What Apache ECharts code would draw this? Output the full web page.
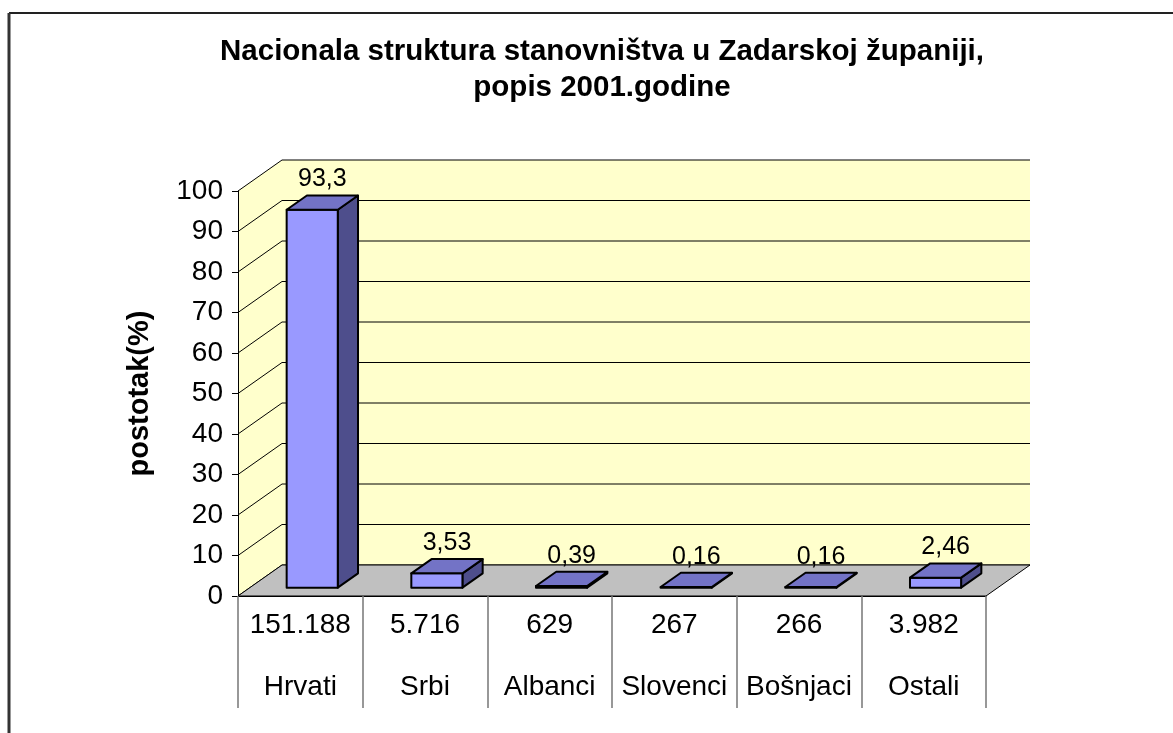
<!DOCTYPE html>
<html>
<head>
<meta charset="utf-8">
<script src="https://cdn.jsdelivr.net/npm/echarts@6/dist/echarts.min.js"></script>
<style>
  html, body { margin: 0; padding: 0; background: #fff; }
  #chart { width: 1173px; height: 733px; }
</style>
</head>
<body>
<div id="chart"></div>
<script>
// data
var categories = ['Hrvati', 'Srbi', 'Albanci', 'Slovenci', 'Bošnjaci', 'Ostali'];
var counts = ['151.188', '5.716', '629', '267', '266', '3.982'];
var percents = [93.3, 3.53, 0.39, 0.16, 0.16, 2.46];
var yMin = 0, yMax = 100, yStep = 10;

var FONT = "'Liberation Sans', Arial, sans-serif";
// fake 3d depth of the floor (px)
var DX = 44, DY = -31;
var F1 = 0.27, F2 = 0.73; // bar front / back depth fractions

function fmt(v) {
    return String(v).replace('.', ',');
}

// back wall, left wall, floor and the grid lines on them
function renderWalls(params, api) {
    var p0 = api.coord([0, yMin]);
    var bw = api.size([1, 0])[0];
    var x0 = p0[0] - bw / 2;
    var y0 = p0[1];
    var x1 = x0 + categories.length * bw;
    var yTop = api.coord([0, yMax])[1];
    var kids = [];
    kids.push({
        type: 'polygon',
        shape: { points: [[x0, y0], [x0 + DX, y0 + DY], [x0 + DX, yTop + DY], [x0, yTop]] },
        style: { fill: '#FFFFCC' }
    });
    kids.push({
        type: 'rect',
        shape: { x: x0 + DX, y: yTop + DY, width: x1 - x0, height: y0 - yTop },
        style: { fill: '#FFFFCC' }
    });
    for (var v = yMin; v <= yMax; v += yStep) {
        var y = api.coord([0, v])[1];
        kids.push({
            type: 'line',
            shape: { x1: x0 + DX, y1: y + DY, x2: x1 + DX, y2: y + DY },
            style: { stroke: '#000', lineWidth: 1 }
        });
        kids.push({
            type: 'line',
            shape: { x1: x0, y1: y, x2: x0 + DX, y2: y + DY },
            style: { stroke: '#000', lineWidth: 1 }
        });
    }
    kids.push({
        type: 'polygon',
        shape: { points: [[x0, y0], [x1, y0], [x1 + DX, y0 + DY], [x0 + DX, y0 + DY]] },
        style: { fill: '#C0C0C0', stroke: '#000', lineWidth: 1 }
    });
    return { type: 'group', children: kids };
}

function renderBar(params, api) {
    var i = api.value(0);
    var base = api.coord([i, yMin]);
    var top = api.coord([i, api.value(1)]);
    var bw = api.size([1, 0])[0];
    var w = bw * 0.41;
    var fx = DX * F1, fy = DY * F1;
    var ddx = DX * (F2 - F1), ddy = DY * (F2 - F1);
    var xl = base[0] - w / 2 + fx;
    var xr = xl + w;
    var yb = base[1] + fy;
    var yt = top[1] + fy;
    var edge = { stroke: '#000', lineWidth: 2, lineJoin: 'round' };
    return {
        type: 'group',
        children: [
            {
                type: 'polygon',
                shape: { points: [[xr, yt], [xr + ddx, yt + ddy], [xr + ddx, yb + ddy], [xr, yb]] },
                style: Object.assign({ fill: '#4E4E8C' }, edge)
            },
            {
                type: 'rect',
                shape: { x: xl, y: yt, width: w, height: yb - yt },
                style: Object.assign({ fill: '#9999FF' }, edge)
            },
            {
                type: 'polygon',
                shape: { points: [[xl, yt], [xr, yt], [xr + ddx, yt + ddy], [xl + ddx, yt + ddy]] },
                style: Object.assign({ fill: '#7373C6' }, edge)
            },
            {
                type: 'text',
                style: {
                    x: base[0] + DX * 0.5,
                    y: top[1] + DY * F2 - 16,
                    text: fmt(api.value(1)),
                    fill: '#000',
                    font: '25px ' + FONT,
                    textAlign: 'center',
                    textVerticalAlign: 'middle'
                }
            }
        ]
    };
}

var chart = echarts.init(document.getElementById('chart'));
chart.setOption({
    backgroundColor: '#fff',
    animation: false,
    textStyle: { fontFamily: FONT },
    title: {
        text: 'Nacionala struktura stanovništva u Zadarskoj županiji,\npopis 2001.godine',
        left: 597,
        top: 29,
        textAlign: 'center',
        textStyle: { fontSize: 29.5, fontWeight: 'bold', color: '#000', lineHeight: 36, fontFamily: FONT }
    },
    graphic: [
        { type: 'line', shape: { x1: 9, y1: 13, x2: 1173, y2: 13 }, style: { stroke: '#222', lineWidth: 2 } },
        { type: 'line', shape: { x1: 9, y1: 13, x2: 9, y2: 733 }, style: { stroke: '#333', lineWidth: 3 } }
    ],
    grid: { left: 238, right: 187, top: 191, bottom: 137 },
    xAxis: {
        type: 'category',
        data: categories,
        z: 5,
        axisLine: { show: true, lineStyle: { color: '#000', width: 1 } },
        axisTick: { show: true, interval: 0, length: 112, lineStyle: { color: '#777', width: 1.5 } },
        axisLabel: {
            interval: 0,
            margin: -2,
            formatter: function (val, idx) {
                return '{n|' + counts[idx] + '}\n{c|' + val + '}';
            },
            rich: {
                n: { fontSize: 28, lineHeight: 62, color: '#000', fontFamily: FONT },
                c: { fontSize: 28, lineHeight: 62, color: '#000', fontFamily: FONT }
            }
        }
    },
    yAxis: {
        type: 'value',
        min: yMin,
        max: yMax,
        interval: yStep,
        z: 5,
        name: 'postotak(%)',
        nameLocation: 'middle',
        nameGap: 84,
        nameTextStyle: { fontSize: 29, fontWeight: 'bold', color: '#000', fontFamily: FONT },
        axisLine: { show: true, lineStyle: { color: '#000', width: 1 } },
        axisTick: { show: true, length: 6, lineStyle: { color: '#000' } },
        axisLabel: { fontSize: 28, color: '#000', margin: 15, fontFamily: FONT },
        splitLine: { show: false }
    },
    series: [
        {
            type: 'custom',
            z: 1,
            silent: true,
            renderItem: renderWalls,
            data: [[0, yMin]]
        },
        {
            type: 'custom',
            z: 3,
            renderItem: renderBar,
            encode: { x: 0, y: 1 },
            data: percents.map(function (v, i) { return [i, v]; })
        }
    ]
});
</script>
</body>
</html>
